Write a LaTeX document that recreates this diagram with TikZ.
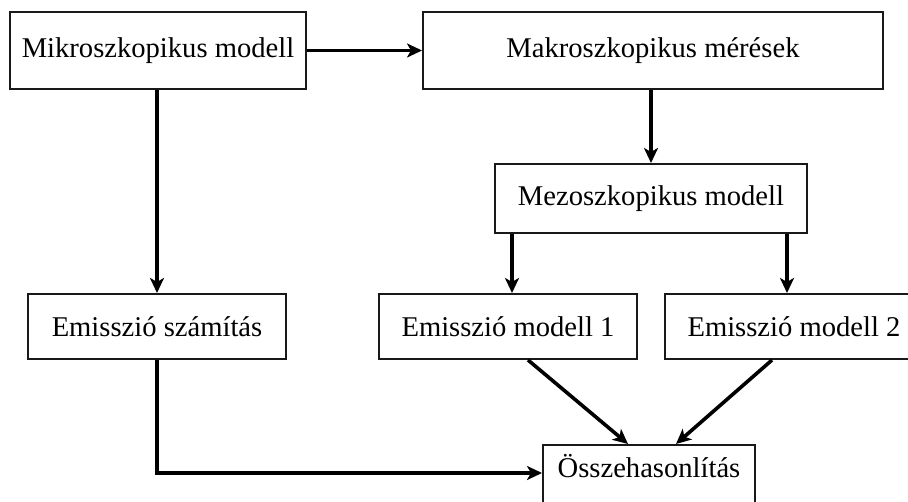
\documentclass[tikz,border=0pt]{standalone}
\usepackage{fontspec}
\setmainfont{Liberation Serif}
\usepackage{tikz}
\usetikzlibrary{arrows.meta, positioning}

\begin{document}
\begin{tikzpicture}[>={Stealth[length=7.5pt, width=7pt, inset=2pt]}, x=1pt, y=1pt,
        % Node Styles
        box/.style={rectangle, draw=black!90, line width=1pt, align=center, inner sep=0pt, font=\fontsize{14.3}{17}\selectfont},
        wide/.style={box, minimum width=148pt, minimum height=38.5pt},
        small/.style={box, minimum width=129pt, minimum height=32.5pt},
        arrow/.style={->, line width=1.8pt, draw=black}
    ]
    \useasboundingbox (0,0) rectangle (454,-251);

    % --- Top row ---
    \node[wide] (mikro) at (79,-25.25) {Mikroszkopikus modell};
    \node[wide, minimum width=230pt, right=57.5pt of mikro] (makro) {Makroszkopikus mérések};

    % --- Middle ---
    \node[box, minimum width=156pt, minimum height=34.5pt, below=36.5pt of makro, xshift=-1pt] (mezo) {Mezoszkopikus modell};

    % --- Emission row ---
    \node[small, below=101.5pt of mikro, xshift=-0.5pt] (szamitas) {Emisszió számítás};
    \node[small, right=45.5pt of szamitas] (em1) {Emisszió modell 1};
    \node[small, right=13pt of em1] (em2) {Emisszió modell 2};

    % --- Comparison (box runs off the bottom edge) ---
    \node[box, minimum width=106pt, minimum height=33pt, text depth=12pt, below=42pt of em1, xshift=70.5pt] (ossze) {Összehasonlítás};

    % --- Routing Connections ---
    \draw[arrow] (mikro) -- (makro);
    \draw[arrow] (mezo.north |- makro.south) -- (mezo.north);
    \draw[arrow] (szamitas.north |- mikro.south) -- (szamitas.north);
    \draw[arrow] ([xshift=2pt]em1.north |- mezo.south) -- ([xshift=2pt]em1.north);
    \draw[arrow] ([xshift=-3.5pt]em2.north |- mezo.south) -- ([xshift=-3.5pt]em2.north);
    \draw[arrow] ([xshift=10pt]em1.south) -- ([xshift=-10.5pt]ossze.north);
    \draw[arrow] ([xshift=-11pt]em2.south) -- ([xshift=13.5pt]ossze.north);
    \draw[arrow] (szamitas.south) |- ([yshift=2.5pt]ossze.west);

\end{tikzpicture}
\end{document}
